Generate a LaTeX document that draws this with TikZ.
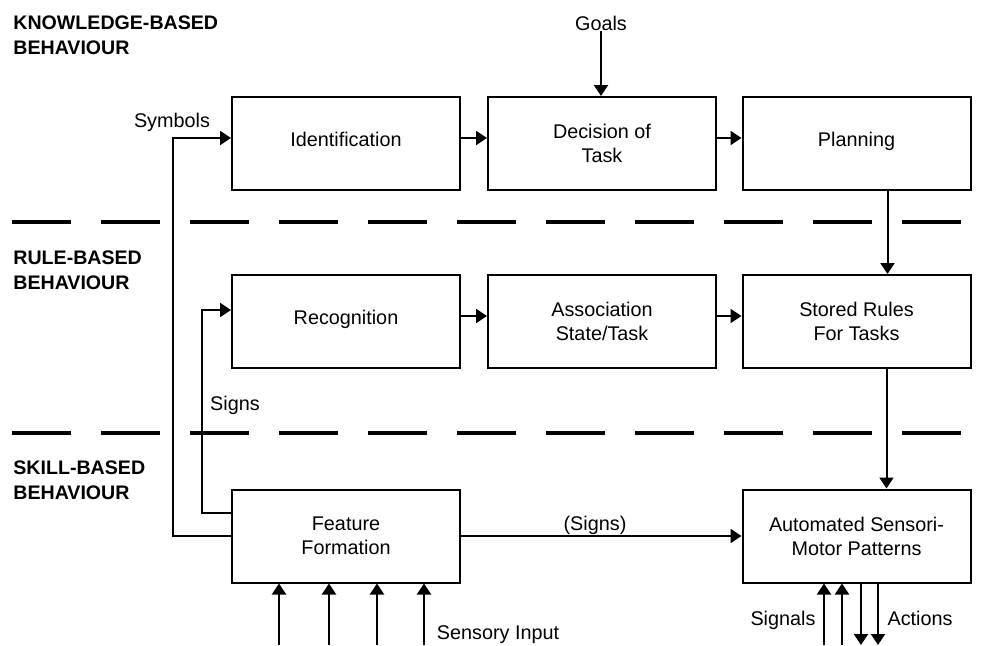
\documentclass[tikz,border=0pt]{standalone}
\usepackage{fontspec}
\setmainfont{Liberation Sans}
\usetikzlibrary{arrows.meta}
\begin{document}
\begin{tikzpicture}[x=0.5pt,y=-0.5pt,
  box/.style={draw, line width=1pt, minimum width=114pt, minimum height=46.5pt,
    inner sep=0pt, align=center, font=\fontsize{9.9}{12}\selectfont},
  oneline/.style={text height=7pt, text depth=4pt},
  lbl/.style={font=\fontsize{9.9}{12}\selectfont, inner sep=0pt, anchor=base},
  zone/.style={font=\bfseries\fontsize{9.8}{12.5}\selectfont, align=left,
    anchor=north west, inner sep=0pt},
  arr/.style={line width=1pt, -{Triangle[length=5.5pt,width=7pt]}},
  divider/.style={line width=1.6pt, dash pattern=on 29.5pt off 15pt}]
\useasboundingbox (0,0) rectangle (985,645);

% level headings
\node[zone] (kb) at (13,15) {KNOWLEDGE-BASED\\BEHAVIOUR};
\node[zone] (rb) at (13,250) {RULE-BASED\\BEHAVIOUR};
\node[zone] (sb) at (13,460) {SKILL-BASED\\BEHAVIOUR};

% level dividers
\coordinate (d1a) at (12,222); \coordinate (d1b) at (985,222);
\coordinate (d2a) at (12,433); \coordinate (d2b) at (985,433);
\draw[divider] (d1a) -- (d1b);
\draw[divider] (d2a) -- (d2b);

% knowledge-based row
\node[box,oneline] (ident) at (346,143.5) {Identification};
\node[box] (dec)   at (602,143.5) {Decision of\\Task};
\node[box,oneline] (plan)  at (856.5,143.5) {Planning};

% rule-based row
\node[box,oneline] (rec)   at (346,321.5) {Recognition};
\node[box] (assoc) at (602,321.5) {Association\\State/Task};
\node[box] (rules) at (856.5,321.5) {Stored Rules\\For Tasks};

% skill-based row
\node[box] (ff)  at (346,536) {Feature\\Formation};
\node[box] (ams) at (856.5,536) {Automated Sensori-\\Motor Patterns};

% labels
\node[lbl] (goals)   at (601,30)  {Goals};
\node[lbl] (symbols) at (172,127) {Symbols};
\node[lbl] (signs)   at (235,410) {Signs};
\node[lbl] (psigns)  at (595,530) {(Signs)};
\node[lbl] (signals) at (783,625) {Signals};
\node[lbl] (actions) at (920,625) {Actions};
\node[lbl] (sensory) at (498,639) {Sensory Input};

% top-level flow
\draw[arr] (goals.south) -- (goals.south |- dec.north);
\draw[arr] ([yshift=2.75pt]ident.east) -- ([yshift=2.75pt]dec.west);
\draw[arr] ([yshift=2.75pt]dec.east) -- ([yshift=2.75pt]plan.west);
\draw[arr] ([xshift=15.5pt]plan.south) -- ([xshift=15.5pt]rules.north);

% rule-level flow
\draw[arr] ([yshift=2.75pt]rec.east) -- ([yshift=2.75pt]assoc.west);
\draw[arr] ([yshift=2.75pt]assoc.east) -- ([yshift=2.75pt]rules.west);
\draw[arr] ([xshift=15pt]rules.south) -- ([xshift=15pt]ams.north);

% feedback paths from feature formation
\draw[arr] (ff.west) -- ++(-58,0) |- ([yshift=2.75pt]ident.west);
\draw[arr] ([yshift=11.5pt]ff.west) -- ++(-29,0) |- ([yshift=5.75pt]rec.west);
\draw[arr] (ff.east) -- (ams.west);

% sensory inputs
\coordinate (in1) at (279,645);
\coordinate (in2) at (329,645);
\coordinate (in3) at (377,645);
\coordinate (in4) at (424,645);
\foreach \c in {in1,in2,in3,in4}
  \draw[arr] (\c) -- (\c |- ff.south);

% signals in, actions out
\coordinate (sig1) at (824,645);
\coordinate (sig2) at (842,645);
\coordinate (act1) at (861,645);
\coordinate (act2) at (878,645);
\draw[arr] (sig1) -- (sig1 |- ams.south);
\draw[arr] (sig2) -- (sig2 |- ams.south);
\draw[arr] (act1 |- ams.south) -- (act1);
\draw[arr] (act2 |- ams.south) -- (act2);
\end{tikzpicture}
\end{document}
